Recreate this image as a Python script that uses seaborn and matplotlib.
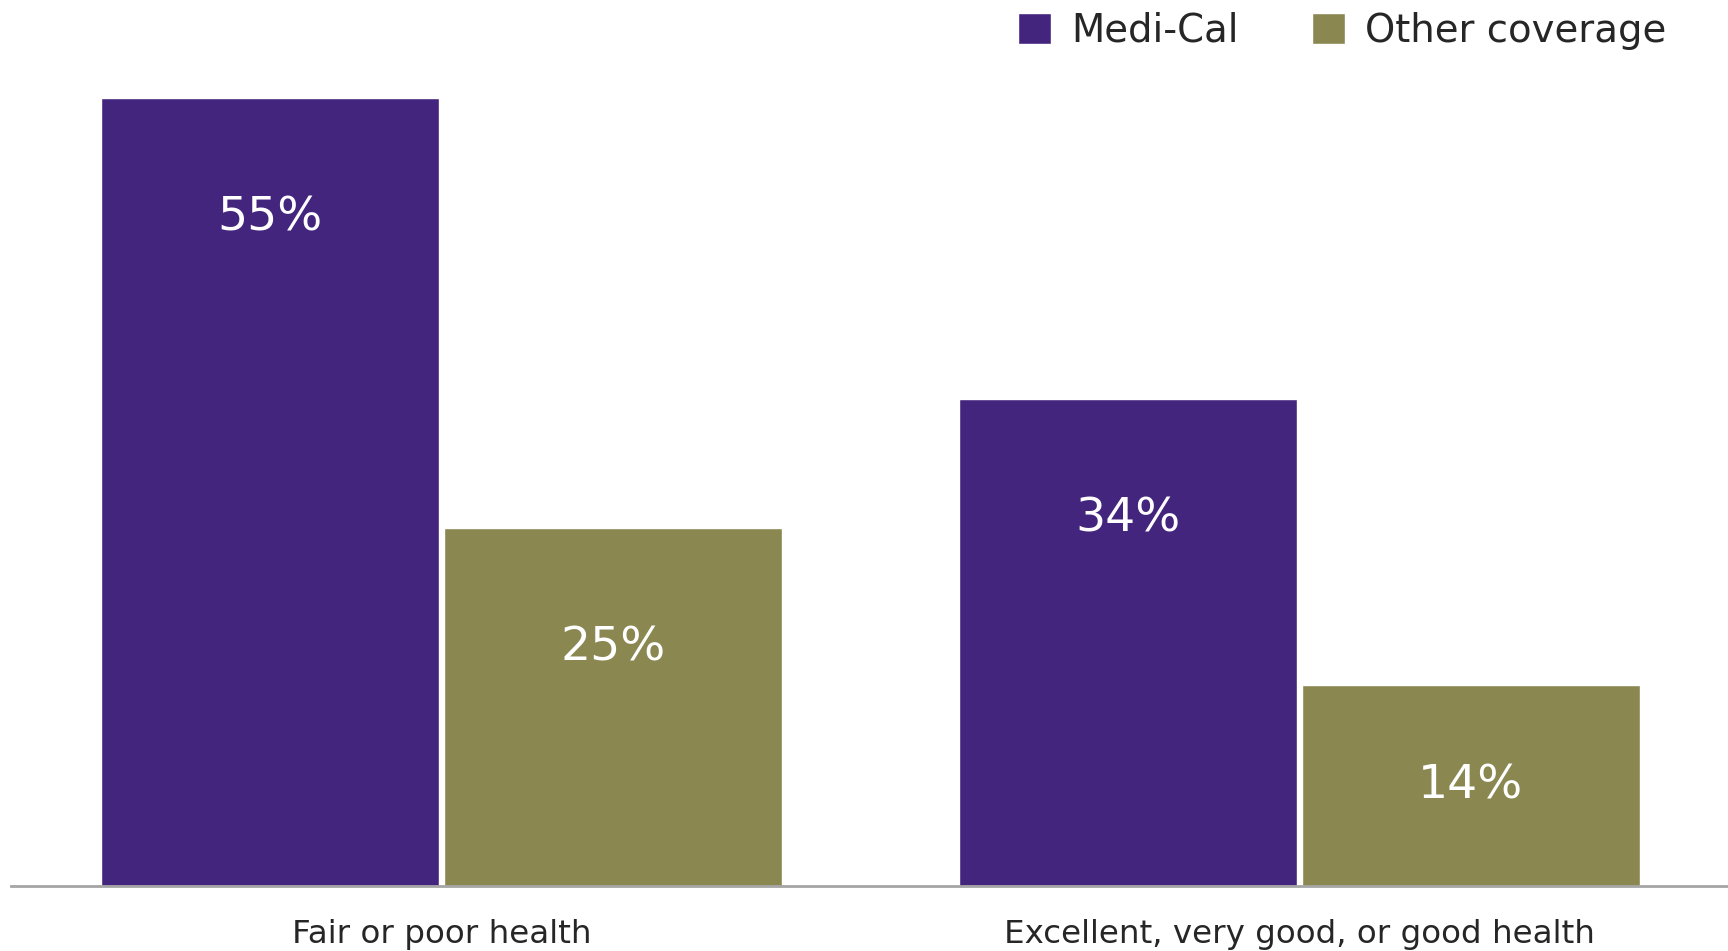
import matplotlib
matplotlib.use("Agg")
import matplotlib.pyplot as plt
import seaborn as sns
import pandas as pd

categories = ["Fair or poor health", "Excellent, very good, or good health"]
series_names = ["Medi-Cal", "Other coverage"]
medi_cal = [55, 34]
other_coverage = [25, 14]
value_labels_medi = ["55%", "34%"]
value_labels_other = ["25%", "14%"]

colors = ["#44257e", "#8a8750"]

df = pd.DataFrame({
    "category": categories * 2,
    "coverage": [series_names[0]] * 2 + [series_names[1]] * 2,
    "value": medi_cal + other_coverage,
    "label": value_labels_medi + value_labels_other,
})

sns.set_theme(style="white")
plt.rcParams["font.family"] = ["DejaVu Sans"]

fig = plt.figure(figsize=(17.28, 9.51), dpi=100)
W, H = 1728, 951
left_px, right_px, bottom_px, top_px = 11, 1728, 886, 98
ax = fig.add_axes([left_px / W, (H - bottom_px) / H,
                   (right_px - left_px) / W, (bottom_px - top_px) / H])

sns.barplot(data=df, x="category", y="value", hue="coverage",
            hue_order=series_names, order=categories,
            palette=colors, width=0.80, gap=0.015, saturation=1,
            ax=ax, legend=True)

ax.set_ylim(0, 55)
ax.set_xlim(-0.5024, 1.5)
ax.set_xlabel("")
ax.set_ylabel("")
ax.set_yticks([])
for s in ["top", "right", "left"]:
    ax.spines[s].set_visible(False)
ax.spines["bottom"].set_color("#a5a5a5")
ax.spines["bottom"].set_linewidth(2)
ax.tick_params(axis="x", length=0, pad=23.5, labelsize=23.4, labelcolor="#262626")

# value labels inside bars
for cont, labs in zip(ax.containers, [value_labels_medi, value_labels_other]):
    for bar, lab in zip(cont, labs):
        h = bar.get_height()
        y = max(h - 8.4, h / 2)
        ax.text(bar.get_x() + bar.get_width() / 2, y, lab,
                ha="center", va="center", color="white", fontsize=34)

handles, labels = ax.get_legend_handles_labels()
ax.get_legend().remove()
fig.legend(handles, labels, loc="upper left",
           bbox_to_anchor=(1018 / W, 1 - 12 / H), ncol=2, frameon=False,
           fontsize=27.8, handlelength=0.85, handleheight=0.85,
           handletextpad=0.52, columnspacing=1.9, borderpad=0,
           borderaxespad=0, labelcolor="#262626")

fig.savefig("out.png", dpi=100, facecolor="white")
